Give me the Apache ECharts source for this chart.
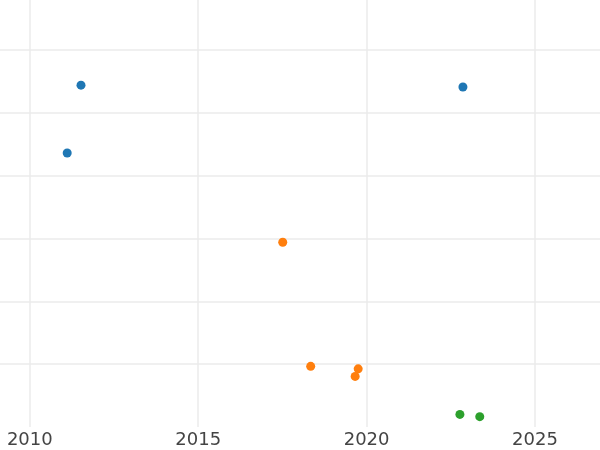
<!DOCTYPE html>
<html>
<head>
<meta charset="utf-8">
<script src="https://cdn.jsdelivr.net/npm/echarts@6/dist/echarts.min.js"></script>
<style>
html,body{margin:0;padding:0;background:#fff;}
#chart{width:600px;height:450px;}
</style>
</head>
<body>
<div id="chart"></div>
<script>
// Data
var blueX = [2011.52, 2011.11, 2022.86];
var blueY = [5.44, 4.36, 5.41];
var orangeX = [2017.51, 2018.34, 2019.75, 2019.66];
var orangeY = [2.94, 0.965, 0.925, 0.805];
var greenX = [2022.77, 2023.36];
var greenY = [0.20, 0.165];
var xTicks = [2010, 2015, 2020, 2025];

function pairs(xs, ys) {
  return xs.map(function (x, i) { return [x, ys[i]]; });
}

var chart = echarts.init(document.getElementById('chart'), null, {renderer: 'canvas'});
var gridColor = '#ebebeb';
chart.setOption({
  animation: false,
  backgroundColor: '#ffffff',
  grid: {left: 0, right: 0, top: 0, bottom: 23},
  xAxis: {
    type: 'value',
    min: 2009.115,
    max: 2026.93,
    axisLine: {show: false},
    axisTick: {show: false, customValues: xTicks},
    axisLabel: {
      customValues: xTicks,
      margin: 4,
      fontFamily: 'DejaVu Sans',
      fontSize: 18,
      color: '#444444',
      formatter: function (v) { return String(v); }
    },
    splitLine: {show: true, showMinLine: true, showMaxLine: true, lineStyle: {color: gridColor, width: 1.5}}
  },
  yAxis: {
    type: 'value',
    min: 0,
    max: 6.795,
    interval: 1,
    axisLine: {show: false},
    axisTick: {show: false},
    axisLabel: {show: false},
    splitLine: {show: true, showMinLine: false, showMaxLine: false, lineStyle: {color: gridColor, width: 1.5}}
  },
  series: [
    {type: 'scatter', data: pairs(blueX, blueY), symbolSize: 9, itemStyle: {color: '#1f77b4', opacity: 1}},
    {type: 'scatter', data: pairs(orangeX, orangeY), symbolSize: 9, itemStyle: {color: '#ff7f0e', opacity: 1}},
    {type: 'scatter', data: pairs(greenX, greenY), symbolSize: 9, itemStyle: {color: '#2ca02c', opacity: 1}}
  ]
});
</script>
</body>
</html>
